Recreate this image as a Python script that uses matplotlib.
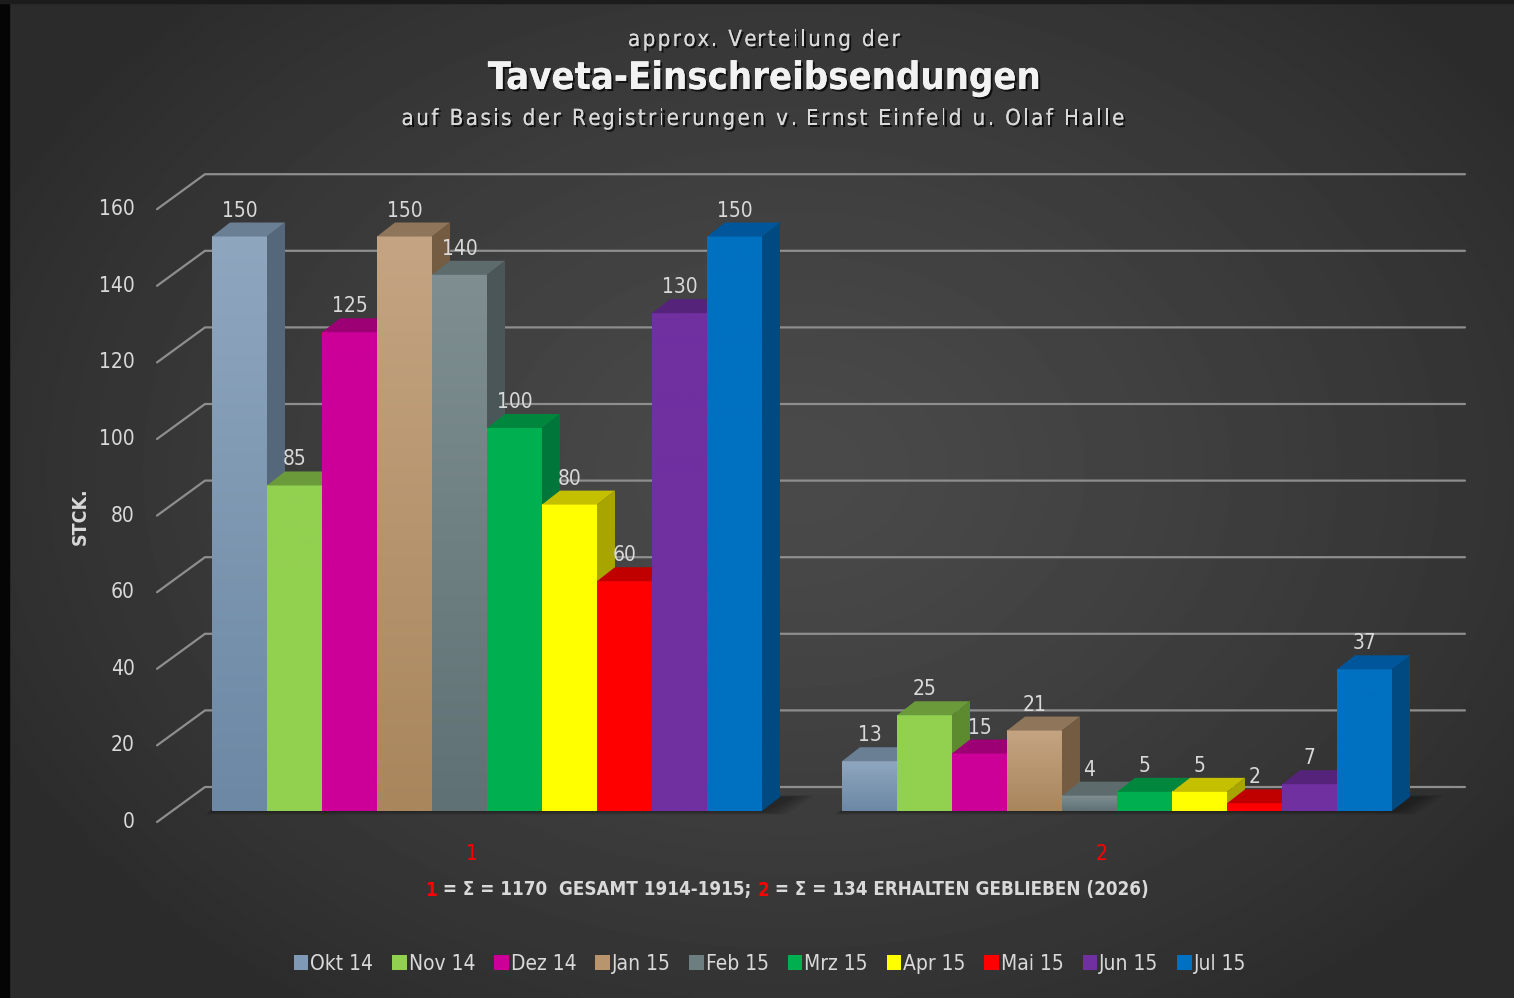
import numpy as np
import matplotlib.pyplot as plt
from matplotlib.patches import Polygon, Patch, Rectangle
from matplotlib.font_manager import FontProperties
import matplotlib.colors as mcolors
import matplotlib.patheffects as pe

# ---- Data
groups = ["1", "2"]
series = ["Okt 14", "Nov 14", "Dez 14", "Jan 15", "Feb 15",
          "Mrz 15", "Apr 15", "Mai 15", "Jun 15", "Jul 15"]
values_1 = [150, 85, 125, 150, 140, 100, 80, 60, 130, 150]
values_2 = [13, 25, 15, 21, 4, 5, 5, 2, 7, 37]
yticks = [0, 20, 40, 60, 80, 100, 120, 140, 160]

# front colour (top of gradient, bottom of gradient), top face, side face
front_top = ["#8fa6bf", "#92d050", "#cc0099", "#c4a482", "#7f8f91",
             "#00b050", "#ffff00", "#ff0000", "#7030a0", "#0070c0"]
front_bot = ["#6c88a4", "#92d050", "#cc0099", "#a9865c", "#5f7174",
             "#00b050", "#ffff00", "#ff0000", "#7030a0", "#0070c0"]
top_col = ["#6a7e94", "#6a9a3a", "#9c0074", "#8f7559", "#5d6b6d",
           "#00873d", "#c4c000", "#c00000", "#55247a", "#00569a"]
side_col = ["#55677b", "#5e8a2f", "#86005f", "#735c42", "#4a5658",
            "#00763a", "#a8a400", "#a00000", "#4a1f6a", "#004a82"]
legend_col = ["#7f9ab7", "#92d050", "#cc0099", "#b8956c", "#6d7e80",
              "#00b050", "#ffff00", "#ff0000", "#7030a0", "#0070c0"]

txt_col = "#d9d9d9"
FAM = "DejaVu Sans"

# ---- Figure, data coords: x = category units, y = value units
W, H = 1514, 998
fig = plt.figure(figsize=(W / 100, H / 100), dpi=100)

# background gradient
bg = fig.add_axes([0, 0, 1, 1])
yy, xx = np.mgrid[0:H:2, 0:W:2]
r = np.sqrt(((xx - 790) / 950.0) ** 2 + ((yy - 470) / 700.0) ** 2)
lev = np.clip(0.29 - 0.13 * r ** 1.3, 0.17, 0.30)
bg.imshow(lev, cmap="gray", vmin=0, vmax=1, extent=[0, W, H, 0], aspect="auto",
          interpolation="bilinear")
bg.add_patch(Rectangle((0, 0), 9, H, color="#050505"))
bg.add_patch(Rectangle((0, 0), W, 3, color="#1c1c1c"))
bg.set_xlim(0, W)
bg.set_ylim(H, 0)
bg.axis("off")

ax = fig.add_axes([0, 0, 1, 1])
ax.patch.set_alpha(0)
px_cat = 630.0        # pixels per category
px_val = 3.83         # pixels per value unit
ax.set_xlim((0 - 172) / px_cat - 0.5, (W - 172) / px_cat - 0.5)
ax.set_ylim((811 - H) / px_val, 811 / px_val)
ax.axis("off")

bw = 55 / px_cat          # bar width
ddx = 18 / px_cat         # depth offset
ddy = 14 / px_val
fx0 = -15 / px_cat        # floor front relative to bar plane
fy0 = -11 / px_val
bx0 = 33 / px_cat         # back wall relative to bar plane
by0 = 24 / px_val
grid_kw = dict(color="#8e8e8e", lw=1.6, solid_capstyle="round", zorder=1)

# grid (back wall + left wall) and tick labels
for t in yticks:
    ax.plot([-0.5 + fx0, -0.5 + bx0, 1.5 + bx0], [t + fy0, t + by0, t + by0], **grid_kw)
    ax.text(-0.5 + fx0 - 22 / px_cat, t + fy0, str(t), ha="right", va="center",
            color=txt_col, fontsize=15, family=FAM, fontstretch="condensed")

# soft shadows on the floor
for g in range(2):
    x_start = g - 0.5 + 40 / px_cat
    x_end = x_start + 10 * bw
    for k in range(6):
        e = (6 - k) * 4 / px_cat
        ax.add_patch(Polygon([(x_start - e * 0.3, -e * 25), (x_end + e, -e * 25),
                              (x_end + ddx * 1.6 + e, ddy + e * 12),
                              (x_start + ddx, ddy + e * 12)],
                             closed=True, facecolor="black", alpha=0.06, lw=0, zorder=2))

# bars
for g, vals in enumerate([values_1, values_2]):
    for i, v in enumerate(vals):
        x0 = g - 0.5 + 40 / px_cat + i * bw
        x1 = x0 + bw
        z = 3 + i * 0.01
        grad = np.linspace(0, 1, 64).reshape(-1, 1, 1)
        c_top = np.array(mcolors.to_rgb(front_top[i]))
        c_bot = np.array(mcolors.to_rgb(front_bot[i]))
        img = c_top * (1 - grad) + c_bot * grad
        ax.imshow(img, extent=[x0, x1, 0, v], origin="upper", aspect="auto",
                  interpolation="bilinear", zorder=z)
        ax.add_patch(Polygon([(x1, 0), (x1 + ddx, ddy), (x1 + ddx, v + ddy), (x1, v)],
                             closed=True, facecolor=side_col[i], lw=0, zorder=z))
        ax.add_patch(Polygon([(x0, v), (x1, v), (x1 + ddx, v + ddy), (x0 + ddx, v + ddy)],
                             closed=True, facecolor=top_col[i], lw=0, zorder=z))
        ax.text((x0 + x1) / 2, v + ddy + 2 / px_val, str(v), ha="center", va="bottom",
                color=txt_col, fontsize=15, zorder=5, family=FAM, fontstretch="condensed")
    ax.text(g + fx0, fy0 - 32 / px_val, groups[g], ha="center", va="center",
            color="#ff0000", fontsize=15, family=FAM, fontstretch="condensed")

# titles with letter spacing
fig.canvas.draw()
rend = fig.canvas.get_renderer()
shadow = [pe.withSimplePatchShadow(offset=(1.5, -1.5), shadow_rgbFace="black", alpha=0.7),
          pe.Normal()]


def spaced_text(s, cx, cy, width, size, color, weight="normal"):
    prop = FontProperties(family=FAM, size=size, weight=weight, stretch="condensed")

    def w(t):
        if t == "":
            return 0.0
        return rend.get_text_width_height_descent(t, prop, ismath=False)[0]
    adv = [w(s[:k + 1]) - w(s[:k]) for k in range(len(s))]
    track = max(0.0, (width - sum(adv)) / (len(s) - 1))
    total = sum(adv) + track * (len(s) - 1)
    x = cx - total / 2
    for ch, a in zip(s, adv):
        if ch != " ":
            fig.text(x / W, 1 - cy / H, ch, ha="left", va="center", color=color,
                     fontproperties=prop, path_effects=shadow)
        x += a + track


spaced_text("approx. Verteilung der", 764, 40, 272, 16, txt_col)
fig.text(764 / W, 1 - 79 / H, "Taveta-Einschreibsendungen", ha="center", va="center",
         color="#f2f2f2", fontsize=27.3, fontweight="bold", family=FAM,
         fontstretch="condensed", path_effects=shadow)
spaced_text("auf Basis der Registrierungen v. Ernst Einfeld u. Olaf Halle", 763, 119, 723,
            16, txt_col)

# axis title
fig.text(80 / W, 1 - 516 / H, "STCK.", rotation=90, ha="center", va="center",
         color=txt_col, fontsize=14, fontweight="bold", family=FAM, fontstretch="condensed")

# bottom note, with red group numbers
note_parts = [("1", "#ff0000"), (" = Σ = 1170  GESAMT 1914-1915; ", txt_col),
              ("2", "#ff0000"), (" = Σ = 134 ERHALTEN GEBLIEBEN (2026)", txt_col)]
objs = []
for s, c in note_parts:
    objs.append(fig.text(0, 1 - 890 / H, s, ha="left", va="center", color=c, fontsize=13.5,
                         fontweight="bold", family=FAM, fontstretch="condensed"))
widths = [o.get_window_extent(rend).width for o in objs]
xpos = 787 - sum(widths) / 2
for o, wd in zip(objs, widths):
    o.set_x(xpos / W)
    xpos += wd

# legend
handles = [Patch(facecolor=legend_col[i], edgecolor="none", label=series[i]) for i in range(10)]
leg = fig.legend(handles=handles, loc="center", bbox_to_anchor=(770 / W, 1 - 964 / H),
                 ncol=10, frameon=False, handlelength=0.7, handleheight=0.7,
                 handletextpad=0.1, columnspacing=0.9,
                 prop={"family": FAM, "size": 15, "stretch": "condensed"})
for tx in leg.get_texts():
    tx.set_color(txt_col)

fig.savefig("out.png", dpi=100)
